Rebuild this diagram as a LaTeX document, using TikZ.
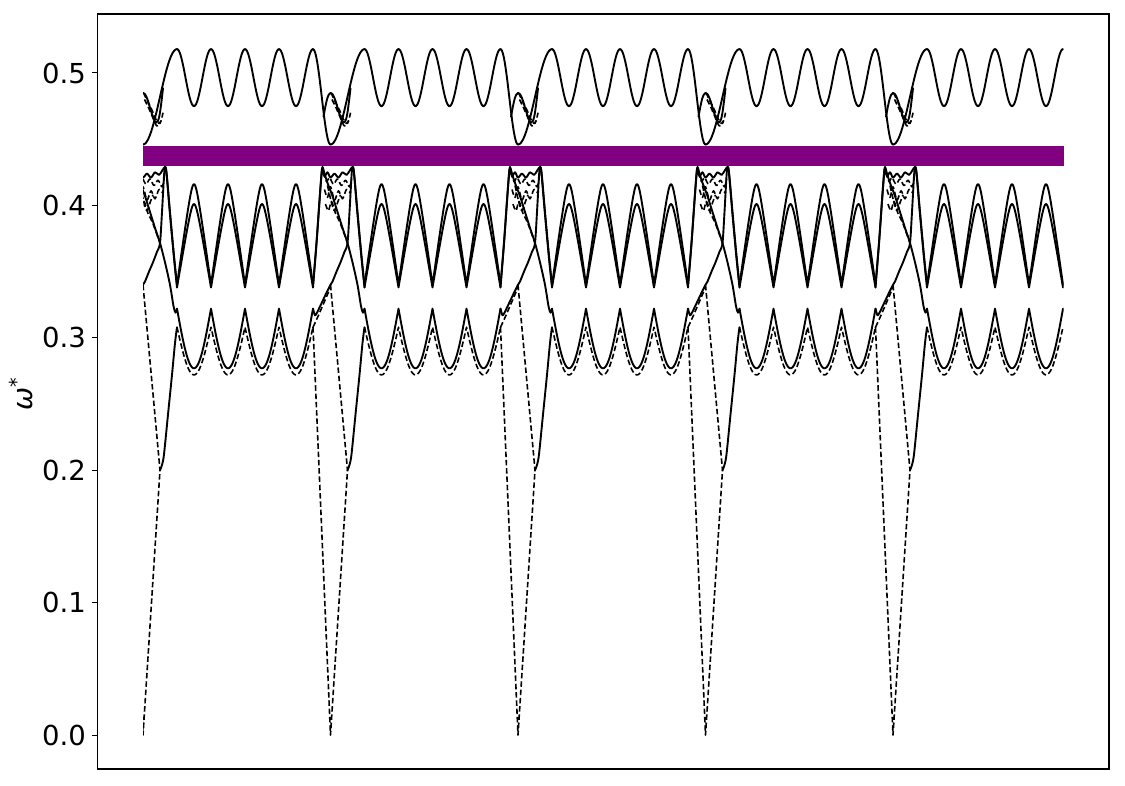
\documentclass[tikz,border=0pt]{standalone}
\usepackage{fontspec}
\setmainfont{DejaVu Sans}
\definecolor{gappurple}{RGB}{128,0,128}
\tikzset{
  sol/.style={black, line width=1.9pt, line join=round, line cap=round},
  dsh/.style={black, line width=1.6pt, line join=round, dash pattern=on 5.5pt off 2.8pt},
  ticklbl/.style={anchor=east, inner sep=0pt, font=\fontsize{27.5}{33}\selectfont},
  tickmark/.style={black, line width=1pt},
  axframe/.style={black, line width=1.1pt},
  gapbar/.style={fill=gappurple}
}
\begin{document}
\begin{tikzpicture}[x=1pt,y=1pt]
\useasboundingbox (0,0) rectangle (1125,785);
\fill[white] (0,0) rectangle (1125,785);

\begin{scope}[x=1pt, y=13.24pt, shift={(0pt,50pt)}]
  \begin{scope}
    \clip (143,-5) rectangle (1063.5,60);
    \foreach \s in {0,...,4}{
      \pgfmathsetmacro\xb{143+187.5*\s}
      \begin{scope}[xshift=\xb pt]
        % regular oscillating region
        \draw[sol] plot[domain=34:170, samples=273] (\x,{49.65+2.15*cos((\x-34)/34*360)});
        \draw[sol] plot[domain=34:170, samples=273] (\x,{34.0+7.6*(1-(sqrt(pow(1-mod(\x-34,34)/17,2)+0.04)-0.2)/0.8198)});
        \draw[sol] plot[domain=34:170, samples=273] (\x,{33.8+6.3*(1-(sqrt(pow(1-mod(\x-34,34)/17,2)+0.04)-0.2)/0.8198)});
        \draw[sol] plot[domain=34:170, samples=273] (\x,{32.2-4.5*abs(sin((\x-34)/34*180))});
        \draw[dsh] plot[domain=34:170, samples=273] (\x,{30.8-3.6*abs(sin((\x-34)/34*180))});
        % top band at the boundary
        \draw[sol] plot[domain=-17.5:0, samples=25] (\x,{48.2+3.6*cos((\x+17.5)/17.5*180)});
        \draw[sol] plot[domain=0:34, samples=35] (\x,{48.2-3.6*cos(\x/34*180)});
        \draw[sol] plot[smooth, tension=0.6] coordinates {(-7,46.7) (-3.5,48.0) (0,48.5) (4,48.1) (9,46.9) (13,46.25) (16.5,46.8) (20,48.85)};
        \draw[dsh] plot[smooth, tension=0.6] coordinates {(0.5,48.5) (5,47.8) (9,47.2) (13,46.5) (17,46.2) (20,47.0)};
        \draw[dsh] plot[smooth, tension=0.6] coordinates {(1.5,48.0) (6,47.3) (10,46.6) (14,46.0) (18,46.4)};
        % middle bands at the boundary
        \draw[sol] plot[smooth, tension=0.5] coordinates {(-17.5,34.0) (-14,37.2) (-11,40.4) (-9,42.4) (-8,42.9) (-6,42.4) (-3,41.7) (2,40.7) (7,39.5) (12,38.3) (17,37.16) (22,35.7) (27,34.0) (30.5,32.4) (32.5,31.9) (34,32.2)};
        \draw[sol] plot[smooth, tension=0.5] coordinates {(-17.5,33.8) (-14,37.1) (-11,40.3) (-9,42.3) (-8,42.8) (-6,42.2) (-3,42.5) (0,42.1) (4,42.4) (8,42.1) (12,42.5) (16,42.3) (19,42.6) (22,42.9) (23.5,42.4) (27,39.3) (31,36.0) (34,33.8)};
        \draw[sol] plot[smooth, tension=0.5] coordinates {(-17.5,32.2) (-15.5,31.7) (-13.5,31.9) (-9,32.6) (-4,33.4) (0,34.0) (2,34.25) (6,35.0) (10,35.7) (14,36.5) (17,37.16) (19,39.5) (21,42.2) (22,42.9) (23.5,42.5) (27,39.5) (31,36.2) (34,34.0)};
        \draw[dsh] plot[smooth, tension=0.5] coordinates {(-7,42.5) (-4,41.8) (-1,42.1) (3,41.6) (7,42.0) (11,41.5) (15,41.9) (19,41.4) (21,42.0)};
        \draw[dsh] plot[smooth, tension=0.5] coordinates {(-6,41.2) (-3,40.6) (0,41.4) (4,40.4) (8,41.1) (12,40.5) (16,41.2) (20,40.9)};
        \draw[dsh] plot[smooth, tension=0.5] coordinates {(-5,40.1) (-2,39.6) (1,40.3) (5,39.4) (9,38.8) (13,38.0) (17,37.16)};
        \draw[dsh] plot[smooth, tension=0.5] coordinates {(-3,41.5) (1,40.2) (4,39.6) (7,40.2) (10,40.8)};
        % lower bands at the boundary
        \draw[dsh] plot[smooth, tension=0.5] coordinates {(-17.5,30.8) (-15,31.2) (-12,31.7) (-8,32.4) (-4,33.1) (0,33.8)};
        \coordinate (za) at (-17.5,30.8);
        \coordinate (zb) at (0,0);
        \coordinate (zc) at (17,20);
        \coordinate (zd) at (0,34);
        \draw[dsh] (za) -- (zb) -- (zc);
        \draw[dsh] (zd) -- (zc);
        \draw[sol] plot[smooth, tension=0.5] coordinates {(17,20) (19,20.4) (21,21.2) (25,24.2) (29,27.2) (32,29.6) (34,30.8)};
      \end{scope}
    }
  \end{scope}
  \fill[gapbar] (143,43.0) rectangle (1063.5,44.51);
\end{scope}

% axes
\draw[axframe] (97.5,16) rectangle (1109,771);
\foreach \i in {0,...,5}{
  \pgfmathsetmacro\yy{50+132.4*\i}
  \draw[tickmark] (91.5,\yy) -- (97.5,\yy);
  \node[ticklbl] (tl\i) at (86,\yy) {0.\i};
}
\node[rotate=90, inner sep=0pt, font=\fontsize{27.5}{33}\selectfont] (ylab) at (21,391) {{\itshape ω}\textsuperscript{*}};
\end{tikzpicture}
\end{document}
